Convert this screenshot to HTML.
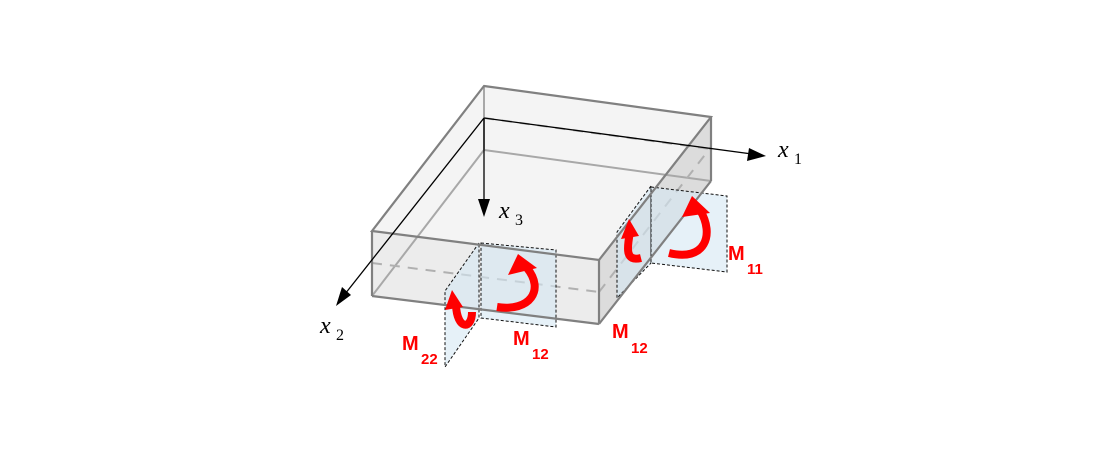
<!DOCTYPE html>
<html><head><style>html,body{margin:0;padding:0;background:#fff}svg{display:block}</style></head>
<body>
<svg width="1097" height="455" viewBox="0 0 1097 455" xmlns="http://www.w3.org/2000/svg" font-family="Liberation Sans, sans-serif">
<polygon points="484,86 711,117 599,260 372,231" fill="#f4f4f4"/>
<polygon points="372,231 599,260 599,324 372,296" fill="#ececec"/>
<polygon points="599,260 711,117 711,181 599,324" fill="#dcdcdc"/>
<g stroke="#a8a8a8" stroke-width="2" fill="none">
<line x1="484" y1="150" x2="711" y2="181"/>
<line x1="484" y1="150" x2="372" y2="296"/>
<line x1="484" y1="86" x2="484" y2="150"/>
</g>
<g stroke="#b0b0b0" stroke-width="2" stroke-dasharray="10,8" fill="none">
<line x1="372" y1="263" x2="599" y2="292"/>
<line x1="599" y1="292" x2="711" y2="147"/>
<line x1="484" y1="118" x2="711" y2="149"/>
</g>
<g fill="#d6e8f4" fill-opacity="0.6" stroke="#111" stroke-width="1" stroke-dasharray="3,2">
<polygon points="479,243 445,291 445,367 479,318"/>
<polygon points="481,243 556,250 556,327 481,318"/>
<polygon points="651,186 617,232 617,298 651,263"/>
<polygon points="651,187 727,196 727,272 651,263"/>
</g>
<g stroke="#808080" stroke-width="2.2" fill="none">
<polygon points="484,86 711,117 599,260 372,231"/>
<line x1="372" y1="231" x2="372" y2="296"/>
<line x1="372" y1="296" x2="599" y2="324"/>
<line x1="599" y1="260" x2="599" y2="324"/>
<line x1="711" y1="117" x2="711" y2="181"/>
<line x1="711" y1="181" x2="599" y2="324"/>
</g>
<g stroke="#000" stroke-width="1.3" fill="none">
<line x1="484" y1="118" x2="752" y2="154"/>
<line x1="484" y1="118" x2="484" y2="203"/>
<line x1="484" y1="118" x2="345" y2="294"/>
</g>
<polygon points="766,156 747,161 749,148" fill="#000"/>
<polygon points="484,217 478,199 490,199" fill="#000"/>
<polygon points="336,306 342,287 351,295" fill="#000"/>
<g font-family="Liberation Serif, serif" font-style="italic" fill="#000">
<text x="778" y="157" font-size="24">x</text><text x="794" y="164" font-size="16" font-style="normal">1</text>
<text x="499" y="218" font-size="24">x</text><text x="515" y="225" font-size="16" font-style="normal">3</text>
<text x="320" y="333" font-size="24">x</text><text x="336" y="340" font-size="16" font-style="normal">2</text>
</g>
<g stroke="#f00" stroke-width="8" fill="none" stroke-linecap="butt">
<path d="M497,307 C530,312 545,290 527,268"/>
<path d="M472,312 C472,330 457,330 456,305"/>
<path d="M669,253 C705,262 715,235 700,210"/>
<path d="M641,258 C625,262 627,248 630,232"/>
</g>
<g fill="#f00">
<polygon points="518,254 508,275 537,268"/>
<polygon points="452,290 445,310 463,307"/>
<polygon points="692,196 682,217 710,213"/>
<polygon points="629,219 621,239 639,236"/>
</g>
<g fill="#f00" font-weight="bold">
<text x="402" y="350" font-size="20">M</text><text x="421" y="364" font-size="15">22</text>
<text x="513" y="345" font-size="20">M</text><text x="532" y="359" font-size="15">12</text>
<text x="612" y="338" font-size="20">M</text><text x="631" y="353" font-size="15">12</text>
<text x="728" y="260" font-size="20">M</text><text x="747" y="274" font-size="15">11</text>
</g>
</svg>
</body></html>
